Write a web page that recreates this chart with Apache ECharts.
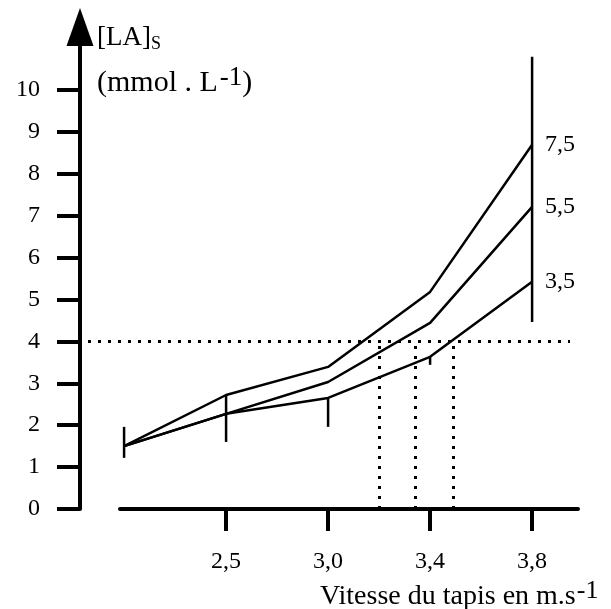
<!DOCTYPE html>
<html>
<head>
<meta charset="utf-8">
<script src="https://cdn.jsdelivr.net/npm/echarts@6/dist/echarts.min.js"></script>
<style>
  html, body { margin: 0; padding: 0; background: #fff; }
  #chart { width: 611px; height: 609px; }
</style>
</head>
<body>
<div id="chart"></div>
<script>
// categories on the x axis (first one has no label)
var speedLabels = ['', '2,5', '3,0', '3,4', '3,8'];
var labelSpeeds = [null, 2.5, 3.0, 3.4, 3.8];
// the three curves, named by their end label
var curveNames = ['7,5', '5,5', '3,5'];
var curve75 = [1.5, 2.72, 3.39, 5.18, 8.69];
var curve55 = [1.5, 2.27, 3.03, 4.44, 7.21];
var curve35 = [1.5, 2.27, 2.65, 3.63, 5.42];
// vertical bars at each speed
var barLow = [1.22, 1.60, 1.96, 3.44, 4.46];
var barHigh = [1.96, 2.72, 2.65, 3.63, 10.79];
var thresholdLevel = 4;
var thresholdSpeeds = [3.2, 3.34, 3.49];
var yTicks = [0, 1, 2, 3, 4, 5, 6, 7, 8, 9, 10];

var serif = 'Liberation Serif';

// speed -> position on the (evenly spaced) category scale
function speedToPos(s) {
  for (var i = 1; i < labelSpeeds.length - 1; i++) {
    if (s <= labelSpeeds[i + 1]) {
      return i + (s - labelSpeeds[i]) / (labelSpeeds[i + 1] - labelSpeeds[i]);
    }
  }
  return labelSpeeds.length - 1;
}

function toPoints(arr) {
  return arr.map(function (v, i) { return [i, v]; });
}

var chart = echarts.init(document.getElementById('chart'), null, { renderer: 'canvas' });

var curves = [curve75, curve55, curve35];
var series = curves.map(function (c, k) {
  return {
    name: curveNames[k],
    type: 'line',
    data: toPoints(c),
    symbol: 'none',
    silent: true,
    lineStyle: { color: '#000', width: 2.5 },
    endLabel: {
      show: true,
      formatter: '{a}',
      distance: 13,
      color: '#000',
      fontFamily: serif,
      fontSize: 24
    }
  };
});

// dotted threshold lines
var dotted = { color: '#000', width: 3, type: [3, 7] };
var markData = [[{ x: 88, yAxis: thresholdLevel }, { x: 570, yAxis: thresholdLevel }]];
thresholdSpeeds.forEach(function (s) {
  var p = speedToPos(s);
  markData.push([{ coord: [p, 0] }, { coord: [p, thresholdLevel] }]);
});
series[2].markLine = {
  silent: true,
  symbol: 'none',
  label: { show: false },
  lineStyle: dotted,
  animation: false,
  data: markData
};

series.push({
  type: 'custom',
  silent: true,
  data: barLow.map(function (v, i) { return [i, v, barHigh[i]]; }),
  renderItem: function (params, api) {
    var a = api.coord([api.value(0), api.value(1)]);
    var b = api.coord([api.value(0), api.value(2)]);
    return {
      type: 'line',
      shape: { x1: a[0], y1: a[1], x2: b[0], y2: b[1] },
      style: { stroke: '#000', lineWidth: 2.5 }
    };
  }
});

var option = {
  animation: false,
  backgroundColor: '#fff',
  grid: { left: 120, right: 33, top: 27, bottom: 100 },
  xAxis: {
    type: 'value',
    min: -0.04,
    max: 4.45,
    splitLine: { show: false },
    axisLine: { onZero: false, lineStyle: { color: '#000', width: 4 } },
    axisTick: {
      customValues: [1, 2, 3, 4],
      length: 22,
      lineStyle: { color: '#000', width: 4 }
    },
    axisLabel: {
      customValues: [1, 2, 3, 4],
      formatter: function (v) { return speedLabels[Math.round(v)]; },
      margin: 41,
      color: '#000',
      fontFamily: serif,
      fontSize: 24
    }
  },
  yAxis: {
    type: 'value',
    min: 0,
    max: 11.5,
    offset: 40,
    splitLine: { show: false },
    axisLine: {
      show: true,
      onZero: false,
      symbol: ['none', 'triangle'],
      symbolSize: [27, 38],
      lineStyle: { color: '#000', width: 4 }
    },
    axisTick: {
      show: true,
      customValues: yTicks,
      length: 23,
      lineStyle: { color: '#000', width: 4 }
    },
    axisLabel: {
      customValues: yTicks,
      margin: 40,
      color: '#000',
      fontFamily: serif,
      fontSize: 24
    }
  },
  graphic: [
    {
      type: 'text',
      left: 97,
      top: 24,
      style: {
        text: '{a|[LA]}{s|S}',
        fill: '#000',
        rich: {
          a: { fontFamily: serif, fontSize: 27, fill: '#000' },
          s: { fontFamily: serif, fontSize: 18, fill: '#000', padding: [14, 0, 0, 0] }
        }
      }
    },
    {
      type: 'text',
      left: 97,
      top: 64,
      style: {
        text: '{a|(mmol . L}{p|-1}{a|)}',
        fill: '#000',
        rich: {
          a: { fontFamily: serif, fontSize: 30, fill: '#000' },
          p: { fontFamily: serif, fontSize: 27, fill: '#000', padding: [0, 0, 12, 2] }
        }
      }
    },
    {
      type: 'text',
      left: 320,
      top: 578,
      style: {
        text: '{a|Vitesse du tapis en m.s}{p|-1}',
        fill: '#000',
        rich: {
          a: { fontFamily: serif, fontSize: 28, fill: '#000' },
          p: { fontFamily: serif, fontSize: 26, fill: '#000', padding: [0, 0, 12, 1] }
        }
      }
    }
  ],
  series: series
};

chart.setOption(option);
</script>
</body>
</html>
